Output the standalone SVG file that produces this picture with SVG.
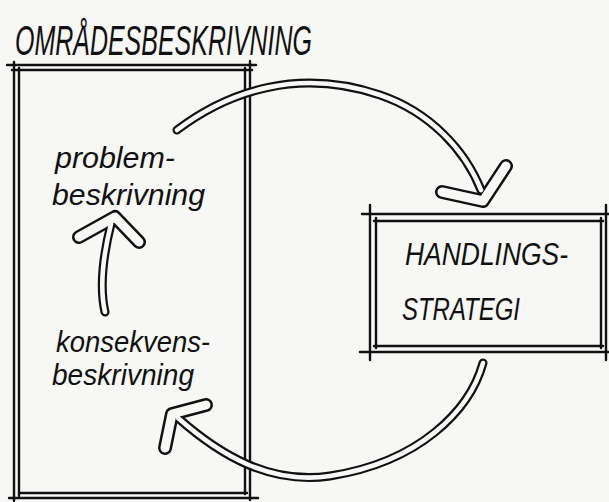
<svg xmlns="http://www.w3.org/2000/svg" width="609" height="502" viewBox="0 0 609 502">
<style>
.bg{fill:#f7f7f5}
.ln{stroke:#111;stroke-width:2.4;fill:none;stroke-linecap:round}
.t{font-family:"Liberation Sans",Arial,sans-serif;font-style:italic;fill:#111}
.sb{stroke:#111;stroke-width:9;fill:none;stroke-linecap:round;stroke-linejoin:round}
.sw{stroke:#f7f7f5;stroke-width:4.6;fill:none;stroke-linecap:round;stroke-linejoin:round}
.hb{stroke:#111;stroke-width:14;fill:none;stroke-linecap:round;stroke-linejoin:round}
.hw{stroke:#f7f7f5;stroke-width:9;fill:none;stroke-linecap:round;stroke-linejoin:round}
</style>
<defs>
<path id="s1" d="M177,130 C230,90 300,68 380,95 C430,112 465,150 481,190"/>
<polyline id="h1" points="442,192 483,201 506,166"/>
<path id="s2" d="M105,312 C100,290 102,260 111,224"/>
<polyline id="h2" points="79,237 115,217 139,242"/>
<path id="s3" d="M483,363 C470,410 420,462 330,476 C270,485 220,455 178,418"/>
<polyline id="h3" points="206,405 172,414 165,448"/>
</defs>
<rect class="bg" x="0" y="0" width="609" height="502"/>
<text class="t" x="15" y="55" font-size="42" textLength="297" lengthAdjust="spacingAndGlyphs">OMRÅDESBESKRIVNING</text>
<g id="omradesbeskrivning">
<line class="ln" x1="7" y1="65" x2="256" y2="65"/>
<line class="ln" x1="12" y1="70" x2="252" y2="70"/>
<line class="ln" x1="14" y1="62" x2="14" y2="501"/>
<line class="ln" x1="19" y1="68" x2="19" y2="496"/>
<line class="ln" x1="245" y1="68" x2="245" y2="494"/>
<line class="ln" x1="250" y1="61" x2="250" y2="500"/>
<line class="ln" x1="19" y1="493" x2="247" y2="493"/>
<line class="ln" x1="9" y1="498" x2="258" y2="498"/>
</g>
<g id="problembeskrivning">
<text class="t" x="55" y="168" font-size="29" textLength="120" lengthAdjust="spacingAndGlyphs">problem-</text>
<text class="t" x="52" y="205" font-size="29" textLength="153" lengthAdjust="spacingAndGlyphs">beskrivning</text>
</g>
<g id="konsekvensbeskrivning">
<text class="t" x="56" y="352" font-size="29" textLength="154" lengthAdjust="spacingAndGlyphs">konsekvens-</text>
<text class="t" x="52" y="385" font-size="29" textLength="142" lengthAdjust="spacingAndGlyphs">beskrivning</text>
</g>
<g id="handlingsstrategi">
<line class="ln" x1="362" y1="214" x2="609" y2="214"/>
<line class="ln" x1="374" y1="221" x2="603" y2="221"/>
<line class="ln" x1="370" y1="205" x2="370" y2="360"/>
<line class="ln" x1="376" y1="218" x2="376" y2="348"/>
<line class="ln" x1="601" y1="218" x2="601" y2="348"/>
<line class="ln" x1="606" y1="205" x2="606" y2="360"/>
<line class="ln" x1="374" y1="346" x2="603" y2="346"/>
<line class="ln" x1="360" y1="352" x2="609" y2="352"/>
<text class="t" x="405" y="265" font-size="32" textLength="163" lengthAdjust="spacingAndGlyphs">HANDLINGS-</text>
<text class="t" x="402" y="320" font-size="32" textLength="118" lengthAdjust="spacingAndGlyphs">STRATEGI</text>
</g>
<g id="connectors">
<use href="#s1" class="sb"/><use href="#h1" class="hb"/>
<use href="#s2" class="sb"/><use href="#h2" class="hb"/>
<use href="#s3" class="sb"/><use href="#h3" class="hb"/>
<use href="#s1" class="sw"/><use href="#h1" class="hw"/>
<use href="#s2" class="sw"/><use href="#h2" class="hw"/>
<use href="#s3" class="sw"/><use href="#h3" class="hw"/>
</g>
</svg>
